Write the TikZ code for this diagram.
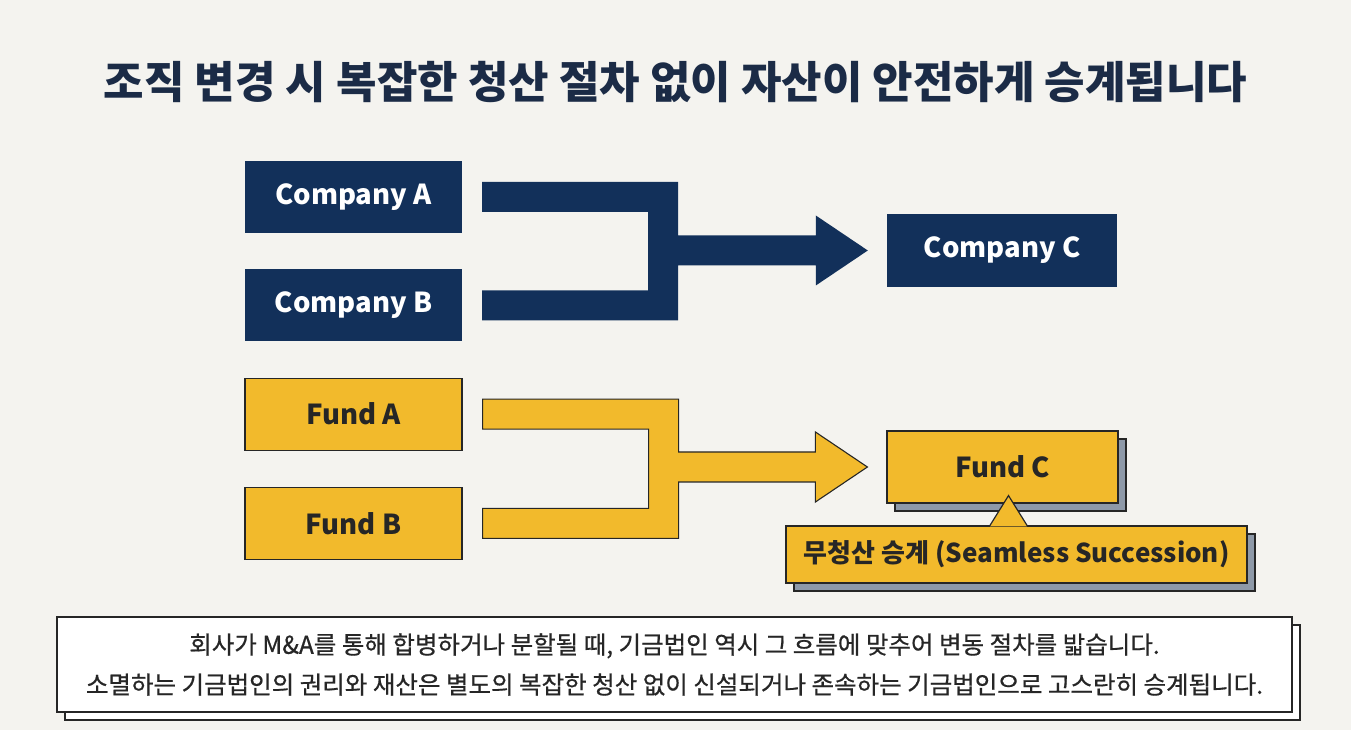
\documentclass[tikz,border=0pt]{standalone}
\usepackage{fontspec}
\setmainfont{Noto Sans CJK KR}
\newfontfamily\notefont{Noto Sans CJK KR}[FakeBold=0.6]
\usetikzlibrary{calc,
	positioning,
	shadows}
\definecolor{navy}{HTML}{12305A}
\definecolor{gold}{HTML}{F2BA2C}
\definecolor{ink}{HTML}{262626}
\definecolor{paper}{HTML}{F4F3EF}
\definecolor{slate}{HTML}{8E99A8}
\definecolor{titleink}{HTML}{1B2B46}

\tikzset{
	company/.style={fill=navy, text=white, minimum width=217pt, minimum height=72pt, inner sep=0pt, font=\fontsize{27.5}{32}\selectfont\bfseries},
	fund/.style={company, fill=gold, draw=ink, line width=1.2pt, text=ink},
	shadowed/.style={general shadow={shadow xshift=8pt, shadow yshift=-8pt, fill=slate, draw=ink, line width=1.2pt}},
	notebox/.style={fill=white, draw=ink, line width=1.2pt, minimum width=1235pt, minimum height=95pt, align=center, font=\notefont\fontsize{24.5}{40}\selectfont, text=ink,
		general shadow={shadow xshift=8pt, shadow yshift=-8pt, fill=white, draw=ink, line width=1.2pt}},
	mergenavy/.style={fill=navy},
	mergegold/.style={fill=gold, draw=ink, line width=1.1pt, line join=miter}
}

% bracket from two boxes into one arrow
\newcommand{\mergearrow}[4]{%
	\path[#4] let \p1=(#1.east), \p2=(#2.east), \p3=(#3.west) in
		(\x1+20pt,\y1+15pt) -- (\x1+216pt,\y1+15pt) -- (\x1+216pt,\y3+15pt) -- (\x3-71pt,\y3+15pt) -- (\x3-71pt,\y3+35pt)
		-- (\x3-19pt,\y3) -- (\x3-71pt,\y3-35pt) -- (\x3-71pt,\y3-15pt) -- (\x1+216pt,\y3-15pt) -- (\x1+216pt,\y2-15pt)
		-- (\x1+20pt,\y2-15pt) -- (\x1+20pt,\y2+15pt) -- (\x1+186pt,\y2+15pt) -- (\x1+186pt,\y1-15pt) -- (\x1+20pt,\y1-15pt) -- cycle;}

\begin{document}
\begin{tikzpicture}[x=1pt, y=1pt, node distance=36pt]
	\fill[paper] (0, 0) rectangle (1351, 730);
	\useasboundingbox (0, 0) rectangle (1351, 730);
	\node[text=titleink, font=\fontsize{44}{52}\selectfont\bfseries] (title) at (675.5, 648) {조직 변경 시 복잡한 청산 절차 없이 자산이 안전하게 승계됩니다};

	\node[company] (ca) at (353.5, 533) {Company A};
	\node[company, below=of ca] (cb) {Company B};
	\node[fund, below=of cb] (fa) {Fund A};
	\node[fund, below=of fa] (fb) {Fund B};

	\node[company, minimum width=230pt, minimum height=73pt] (cc) at (1002, 479.5) {Company C};
	\node[fund, shadowed, minimum width=231pt] (fc) at (1002.5, 263) {Fund C};

	\mergearrow{ca}{cb}{cc}{mergenavy}
	\mergearrow{fa}{fb}{fc}{mergegold}

	\node[fund, shadowed, minimum width=461pt, minimum height=57pt, font=\fontsize{26}{30}\selectfont\bfseries] (call) at (1016.5, 175.5) {무청산 승계 (Seamless Succession)};
	\coordinate (tip) at ($(fc.south)+(6, 8)$);
	\fill[gold] ($(call.north -| tip)+(-18.5, -1)$) -- (tip) -- ($(call.north -| tip)+(18.5, -1)$) -- cycle;
	\draw[ink, line width=1.2pt, line join=miter] ($(call.north -| tip)+(-18.5, 0)$) -- (tip) -- ($(call.north -| tip)+(18.5, 0)$);

	\node[notebox] (note) at (674.5, 65.5) {회사가 M\&A를 통해 합병하거나 분할될 때, 기금법인 역시 그 흐름에 맞추어 변동 절차를 밟습니다.\\소멸하는 기금법인의 권리와 재산은 별도의 복잡한 청산 없이 신설되거나 존속하는 기금법인으로 고스란히 승계됩니다.};
\end{tikzpicture}
\end{document}
